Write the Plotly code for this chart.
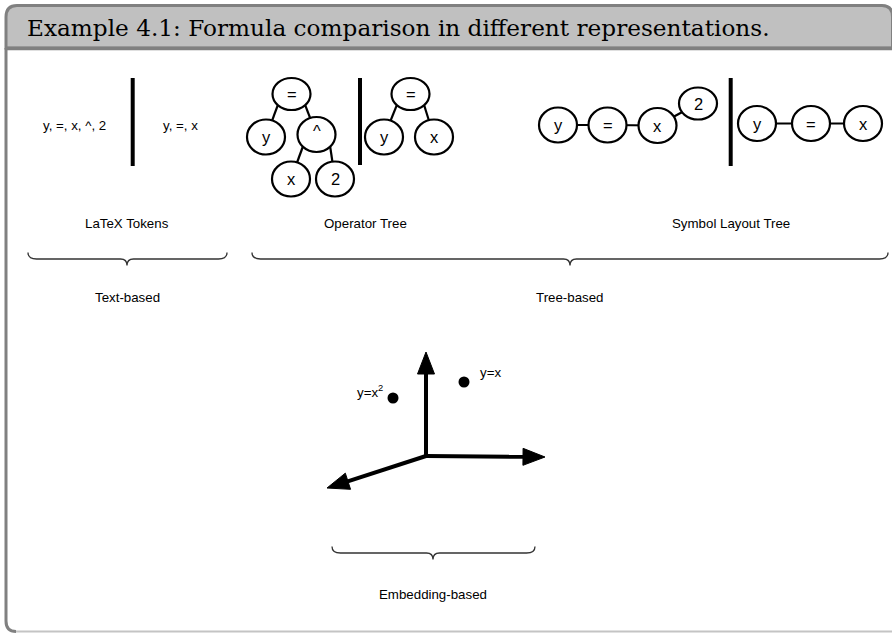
import plotly.graph_objects as go

# ---------------- data ----------------
TITLE = "Example 4.1: Formula comparison in different representations."

# text-based tokens
token_texts = ["y, =, x, ^, 2", "y, =, x"]
token_x = [74, 180]
token_y = [125, 125]

# operator tree, y = x^2
op1_labels = ["=", "y", "^", "x", "2"]
op1_x = [291.5, 266, 316.5, 291, 335]
op1_y = [94, 137, 134.5, 179, 179]
op1_edges = [(0, 1), (0, 2), (2, 3), (2, 4)]

# operator tree, y = x
op2_labels = ["=", "y", "x"]
op2_x = [410.5, 384, 434]
op2_y = [94, 137, 137]
op2_edges = [(0, 1), (0, 2)]

# symbol layout tree, y = x^2
slt1_labels = ["y", "=", "x", "2"]
slt1_x = [558, 607.5, 657.5, 698]
slt1_y = [125, 125, 125.5, 103.5]
slt1_edges = [(0, 1), (1, 2), (2, 3)]

# symbol layout tree, y = x
slt2_labels = ["y", "=", "x"]
slt2_x = [757, 811, 863]
slt2_y = [123.5, 123.5, 123.5]
slt2_edges = [(0, 1), (1, 2)]

# separators between the two formulas (x, y top, y bottom)
sep_x = [132.7, 360, 730.7]
sep_y0 = [78, 78, 78]
sep_y1 = [166, 165, 166]

# captions
caption_texts = ["LaTeX Tokens", "Operator Tree", "Symbol Layout Tree"]
caption_x = [127, 365, 731]
caption_y = [223, 223, 223]

# braces (left, right, tip x, line y) and group labels
brace_x0 = [28, 252, 332]
brace_x1 = [227, 888, 535]
brace_xm = [127, 570, 433]
brace_y = [259, 259, 553]
group_texts = ["Text-based", "Tree-based", "Embedding-based"]
group_x = [127, 570, 433]
group_y = [297, 297, 594]

# embedding space
emb_origin = (426, 456)
emb_axis_tip_x = [426, 545, 327]
emb_axis_tip_y = [352, 457, 488]
emb_point_labels = ["y=x<sup>2</sup>", "y=x"]
emb_point_x = [393, 464]
emb_point_y = [398, 382]
emb_label_x = [370, 490]
emb_label_y = [391, 372]

# ---------------- styles ----------------
W, H = 892, 633
SANS = "Liberation Sans, Arial, sans-serif"
FRAME = "#808080"
BAR = "#c0c0c0"
NODE_RX = 19
NODE_RY = 17.5
ROOT_RY = 16
TXT = 13.3

shapes = []
annotations = []


def txt(x, y, s, size=TXT, family=SANS, color="#000", anchor="center"):
    annotations.append(dict(x=x, y=y, xref="x", yref="y", text=s, showarrow=False,
                            xanchor=anchor, yanchor="middle",
                            font=dict(family=family, size=size, color=color)))


# ---- frame ----
shapes.append(dict(type="path", path="M 6,48 L 6,17 Q 6,5.5 17,5.5 L 882,5.5 Q 892.5,5.5 892.5,17 L 892.5,48 Z",
                   fillcolor=BAR, line=dict(color=FRAME, width=3), layer="below"))
shapes.append(dict(type="path", path="M 6,48 L 6,621 Q 6,631.5 16,631.5",
                   line=dict(color=FRAME, width=3), layer="below"))
shapes.append(dict(type="line", x0=16, x1=892, y0=631.5, y1=631.5,
                   line=dict(color="#c4c4c4", width=2), layer="below"))
shapes.append(dict(type="line", x0=5, x1=892, y0=48.5, y1=48.5,
                   line=dict(color=FRAME, width=3.5)))
txt(25, 27, TITLE, size=23.2, family="DejaVu Serif, serif", anchor="left")

# ---- token texts ----
for s, x, y in zip(token_texts, token_x, token_y):
    txt(x, y, s)

# ---- separators ----
for x, a, b in zip(sep_x, sep_y0, sep_y1):
    shapes.append(dict(type="line", x0=x, x1=x, y0=a, y1=b, line=dict(color="#000", width=4)))


# ---- trees ----
def draw_tree(labels, xs, ys, edges, root_flat=False, tree_edges=True, sizes=None):
    rys = []
    for i in range(len(labels)):
        ry = NODE_RY
        if root_flat and i == 0:
            ry = ROOT_RY
        if sizes and i in sizes:
            ry = sizes[i]
        rys.append(ry)
    for a, b in edges:
        if tree_edges:
            s = 1 if xs[b] > xs[a] else -1
            x0 = xs[a] + s * NODE_RX * 0.72
            y0 = ys[a] + rys[a] * 0.7
            x1, y1 = xs[b], ys[b]
        else:
            x0, y0, x1, y1 = xs[a], ys[a], xs[b], ys[b]
        shapes.append(dict(type="line", x0=x0, y0=y0, x1=x1, y1=y1,
                           line=dict(color="#000", width=2.2)))
    for i, lab in enumerate(labels):
        shapes.append(dict(type="circle", x0=xs[i] - NODE_RX, x1=xs[i] + NODE_RX,
                           y0=ys[i] - rys[i], y1=ys[i] + rys[i],
                           fillcolor="#fff", line=dict(color="#000", width=2.2)))
        txt(xs[i], ys[i] - (4 if lab == "^" else 0), lab, size=16.5)


draw_tree(op1_labels, op1_x, op1_y, op1_edges, root_flat=True)
draw_tree(op2_labels, op2_x, op2_y, op2_edges, root_flat=True)
draw_tree(slt1_labels, slt1_x, slt1_y, slt1_edges, tree_edges=False, sizes={3: 16})
draw_tree(slt2_labels, slt2_x, slt2_y, slt2_edges, tree_edges=False)

# ---- captions ----
for s, x, y in zip(caption_texts, caption_x, caption_y):
    txt(x, y, s)

# ---- braces ----
for x0, x1, xm, y in zip(brace_x0, brace_x1, brace_xm, brace_y):
    c, t = 6.5, 6.5
    p = (f"M {x0},{y-c} Q {x0},{y} {x0+c+2},{y} L {xm-t},{y} Q {xm},{y} {xm},{y+t} "
         f"Q {xm},{y} {xm+t},{y} L {x1-c-2},{y} Q {x1},{y} {x1},{y-c}")
    shapes.append(dict(type="path", path=p, line=dict(color="#333", width=1.3)))
for s, x, y in zip(group_texts, group_x, group_y):
    txt(x, y, s)

# ---- embedding axes ----
ox, oy = emb_origin
HEAD_L, HEAD_W = 22, 8.5
for tx, ty in zip(emb_axis_tip_x, emb_axis_tip_y):
    dx, dy = tx - ox, ty - oy
    n = (dx * dx + dy * dy) ** 0.5
    ux, uy = dx / n, dy / n
    bx, by = tx - HEAD_L * ux, ty - HEAD_L * uy
    px, py = -uy, ux
    shapes.append(dict(type="line", x0=ox, y0=oy, x1=bx + ux, y1=by + uy,
                       line=dict(color="#000", width=4)))
    shapes.append(dict(type="path",
                       path=f"M {tx},{ty} L {bx + HEAD_W*px},{by + HEAD_W*py} L {bx - HEAD_W*px},{by - HEAD_W*py} Z",
                       fillcolor="#000", line=dict(color="#000", width=1)))

fig = go.Figure()
fig.add_trace(go.Scatter(x=emb_point_x, y=emb_point_y, mode="markers",
                         marker=dict(size=11, color="#000"), hoverinfo="skip"))
for s, x, y in zip(emb_point_labels, emb_label_x, emb_label_y):
    txt(x, y, s)

fig.update_layout(
    width=W, height=H, autosize=False,
    margin=dict(l=0, r=0, t=0, b=0, pad=0),
    paper_bgcolor="#fff", plot_bgcolor="#fff",
    xaxis=dict(range=[0, W], visible=False, fixedrange=True),
    yaxis=dict(range=[H, 0], visible=False, fixedrange=True),
    shapes=shapes, annotations=annotations, showlegend=False,
)
fig.write_html("out.html", config={"displayModeBar": False},
               post_script="document.body.style.margin='0';document.body.style.overflow='hidden';")
